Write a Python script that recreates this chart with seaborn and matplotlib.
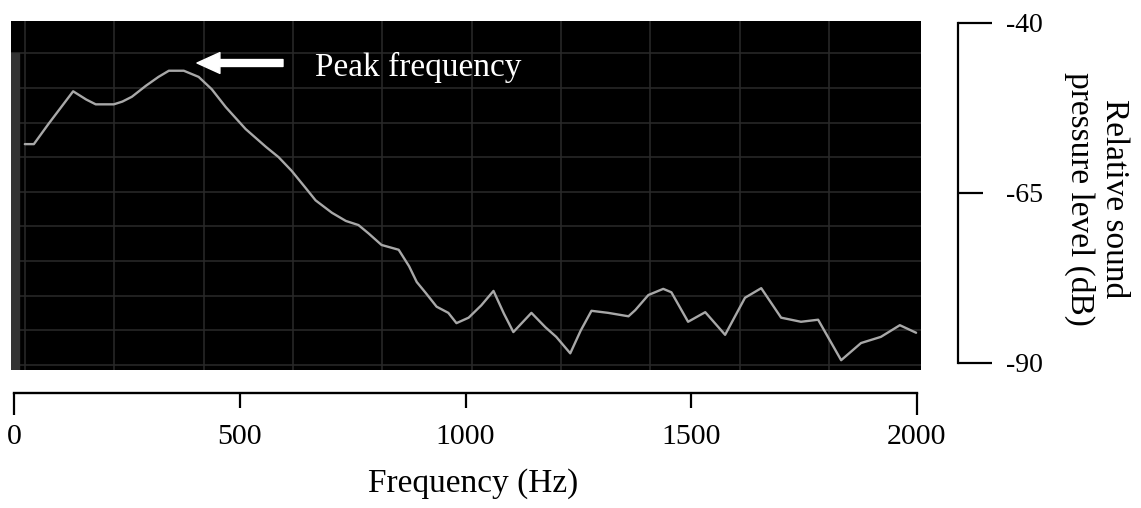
import matplotlib
matplotlib.use("Agg")
import matplotlib.pyplot as plt
import seaborn as sns
from matplotlib.patches import Rectangle

# ---------------- data ----------------
freq_hz = [24, 44, 77, 131, 160, 181, 221, 240, 261, 292, 320, 343, 376, 409, 438,
           469, 513, 558, 586, 615, 646, 668, 704, 735, 763, 785, 814, 852, 875,
           892, 912, 936, 962, 980, 1007, 1035, 1062, 1085, 1106, 1146, 1177, 1201,
           1232, 1255, 1279, 1316, 1361, 1376, 1405, 1438, 1456, 1493, 1531, 1575,
           1619, 1655, 1699, 1743, 1781, 1832, 1876, 1920, 1962, 1998]
level_db = [-57.8, -57.8, -54.8, -50.1, -51.3, -52.0, -52.0, -51.6, -50.9, -49.3,
            -48.0, -47.1, -47.1, -48.0, -49.8, -52.4, -55.6, -58.2, -59.7, -61.7,
            -64.2, -66.0, -67.8, -69.0, -69.6, -70.8, -72.5, -73.2, -75.6, -77.9,
            -79.5, -81.5, -82.4, -83.9, -83.1, -81.3, -79.2, -82.5, -85.2, -82.4,
            -84.5, -85.9, -88.3, -85.0, -82.1, -82.4, -82.9, -82.0, -79.8, -78.9,
            -79.4, -83.7, -82.3, -85.6, -80.2, -78.8, -83.1, -83.7, -83.4, -89.3,
            -86.8, -85.9, -84.2, -85.3]

x_major_ticks = [0, 2000]
x_major_labels = ["0", "2000"]
x_minor_ticks = [500, 1000, 1500]
x_minor_labels = ["500", "1000", "1500"]
y_major_ticks = [-90, -40]
y_major_labels = ["-90", "-40"]
y_minor_ticks = [-65]
y_minor_labels = ["-65"]
x_label = "Frequency (Hz)"
y_label = "Relative sound\npressure level (dB)"
peak_text = "Peak frequency"

# ---------------- style ----------------
sns.set_style("white")
plt.rcParams['font.family'] = ['Liberation Serif', 'DejaVu Serif']

W, H = 1141, 508
fig = plt.figure(figsize=(W / 100, H / 100), dpi=100)


def fx(px):
    return px / W


def fy(py):
    return 1 - py / H


# pixel <-> data scale of the spectrum panel
PX_PER_HZ = 0.4515
X0_PX = 14
PX_PER_DB = 6.859
XL = ((11 - X0_PX) / PX_PER_HZ, (921 - X0_PX) / PX_PER_HZ)
YL = (-90.73, -39.85)

# ---------------- black spectrum panel ----------------
ax = fig.add_axes([fx(11), fy(370), (921 - 11) / W, (370 - 21) / H])
ax.set_facecolor("black")
ax.set_xlim(XL)
ax.set_ylim(YL)
grid_x = [(25 + 89.33 * k - X0_PX) / PX_PER_HZ for k in range(10)]
grid_y = [YL[1] - (53.3 + 34.63 * k - 21) / PX_PER_DB for k in range(10)]
ax.set_xticks(grid_x)
ax.set_yticks(grid_y)
ax.grid(True, color="#2a2a2a", linewidth=1.1)
ax.tick_params(length=0, labelbottom=False, labelleft=False)
for s in ax.spines.values():
    s.set_visible(False)
ax.add_patch(Rectangle((0, 0), 8 / 910, (370 - 53) / 349, transform=ax.transAxes,
                       color="#333333", zorder=2))
sns.lineplot(x=freq_hz, y=level_db, ax=ax, color="#a8a8a8", linewidth=1.7, zorder=3)
ax.set_xlabel("")
ax.set_ylabel("")

# ---------------- bottom frequency axis ----------------
axb = fig.add_axes([fx(11), fy(393), (921 - 11) / W, 0.0001])
axb.set_facecolor("none")
axb.set_xlim(XL)
for k in ["top", "left", "right"]:
    axb.spines[k].set_visible(False)
axb.spines["bottom"].set_bounds(0, 2000)
axb.spines["bottom"].set_linewidth(1.7)
axb.spines["bottom"].set_color("black")
axb.set_yticks([])
axb.xaxis.set_ticks_position("bottom")
axb.set_xticks(x_major_ticks)
axb.set_xticklabels(x_major_labels)
axb.set_xticks(x_minor_ticks, minor=True)
axb.set_xticklabels(x_minor_labels, minor=True)
axb.tick_params(axis="x", which="major", bottom=True, length=16, width=1.6,
                direction="out", pad=6.5, labelsize=21.5, colors="black")
axb.tick_params(axis="x", which="minor", bottom=True, length=11, width=1.6,
                direction="out", pad=11.5, labelsize=21.5, colors="black")

# ---------------- right level axis ----------------
axr = fig.add_axes([fx(958) - 0.0001, fy(363), 0.0001, (363 - 23) / H])
axr.set_facecolor("none")
axr.set_ylim(-90, -40)
for k in ["top", "left", "bottom"]:
    axr.spines[k].set_visible(False)
axr.spines["right"].set_linewidth(1.6)
axr.spines["right"].set_color("black")
axr.set_xticks([])
axr.yaxis.set_ticks_position("right")
axr.set_yticks(y_major_ticks)
axr.set_yticklabels(y_major_labels)
axr.set_yticks(y_minor_ticks, minor=True)
axr.set_yticklabels(y_minor_labels, minor=True)
axr.tick_params(axis="y", which="major", right=True, left=False, length=24.5, width=1.6,
                direction="out", pad=10, labelsize=20, colors="black")
axr.tick_params(axis="y", which="minor", right=True, left=False, length=18, width=1.6,
                direction="out", pad=16.5, labelsize=20, colors="black")

# ---------------- texts ----------------
fig.text(fx(473), fy(492), x_label, ha="center", va="baseline", fontsize=24, color="black")
fig.text(fx(1097), fy(199), y_label, rotation=270, ha="center", va="center",
         multialignment="center", fontsize=24, linespacing=1.15, color="black")
fig.text(fx(315), fy(76), peak_text, ha="left", va="baseline", fontsize=24, color="white")
ax.annotate("", xy=(197, H - 63), xycoords="figure pixels",
            xytext=(283, H - 63), textcoords="figure pixels",
            arrowprops=dict(arrowstyle="simple,head_length=16.5,head_width=15,tail_width=5",
                            color="white", shrinkA=0, shrinkB=0, mutation_scale=1),
            annotation_clip=False)

fig.savefig("out.png", dpi=100)
